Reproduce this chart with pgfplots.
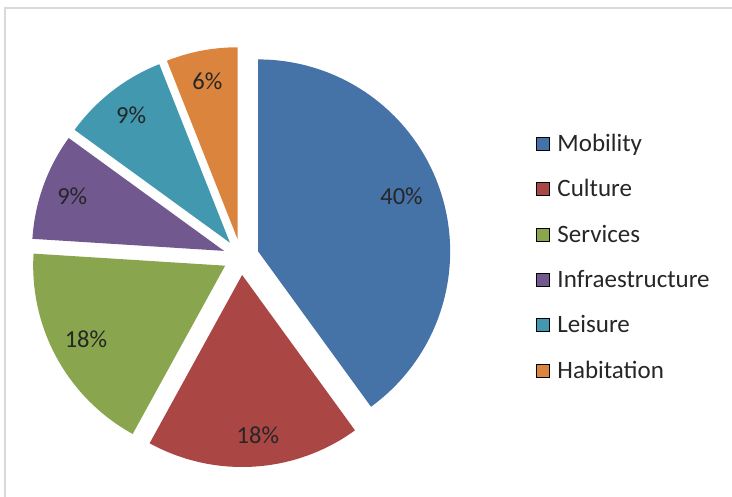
\documentclass[border=0pt]{standalone}
\usepackage{pgfplots}
\pgfplotsset{compat=1.18}
\usepackage{fontspec}
\setmainfont{Carlito}

\definecolor{cMob}{HTML}{4572A7}
\definecolor{cCul}{HTML}{AA4643}
\definecolor{cSer}{HTML}{89A54E}
\definecolor{cInf}{HTML}{71588F}
\definecolor{cLei}{HTML}{4198AF}
\definecolor{cHab}{HTML}{DB843D}
\definecolor{frame}{HTML}{D9D9D9}

\tikzset{pielabel/.style={font=\fontsize{24.5}{28}\selectfont, text=black!85}}

% explode distance, in units of the radius
\def\ex{0.094}

% #1 share before this slice, #2 share, #3 colour,
% #4 label distance (radius units), #5 label angle shift
\newcommand{\slice}[5]{%
  \pgfmathsetmacro\a{90-3.6*#1}%
  \pgfmathsetmacro\b{90-3.6*(#1+#2)}%
  \pgfmathsetmacro\m{(\a+\b)/2}%
  \pgfmathsetmacro\vx{\ex*cos(\m)}%
  \pgfmathsetmacro\vy{\ex*sin(\m)}%
  \pgfmathsetmacro\lx{\vx+#4*cos(\m+#5)}%
  \pgfmathsetmacro\ly{\vy+#4*sin(\m+#5)}%
  \edef\doslice{%
    \noexpand\addplot[fill=#3, draw=none, domain=\b:\a, samples=90, forget plot]
      ({\vx+cos(x)},{\vy+sin(x)}) -- (axis cs:\vx,\vy) -- cycle;
    \noexpand\node[pielabel] at (axis cs:\lx,\ly) {#2\noexpand\%};
  }%
  \doslice
}

\begin{document}
\begin{tikzpicture}
\begin{axis}[
    x=192pt, y=192pt,
    xmin=-1.2552, xmax=2.5573,
    ymin=-1.25, ymax=1.3385,
    enlargelimits=false,
    hide axis,
    clip=false,
    legend style={
        at={(0.728,0.483)}, anchor=west,
        draw=none, fill=none,
        font=\fontsize{25}{28}\selectfont,
        row sep=22.6pt,
        column sep=6pt,
        cells={anchor=west},
        nodes={inner sep=2pt, text=black!85},
    },
    legend image code/.code={\fill[#1] (0pt,-6.5pt) rectangle (13pt,6.5pt);},
]
\slice{0}{40}{cMob}{0.80}{3}
\slice{40}{18}{cCul}{0.84}{2}
\slice{58}{18}{cSer}{0.82}{-1}
\slice{76}{9}{cInf}{0.84}{0}
\slice{85}{9}{cLei}{0.84}{0}
\slice{94}{6}{cHab}{0.84}{0}

\addlegendimage{fill=cMob}\addlegendentry{Mobility}
\addlegendimage{fill=cCul}\addlegendentry{Culture}
\addlegendimage{fill=cSer}\addlegendentry{Services}
\addlegendimage{fill=cInf}\addlegendentry{Infraestructure}
\addlegendimage{fill=cLei}\addlegendentry{Leisure}
\addlegendimage{fill=cHab}\addlegendentry{Habitation}
\end{axis}
\draw[frame, line width=2pt] (5pt,0pt) -- (5pt,489pt) -- (732pt,489pt);
\pgfresetboundingbox
\path (0pt,0pt) rectangle (732pt,497pt);
\end{tikzpicture}
\end{document}
